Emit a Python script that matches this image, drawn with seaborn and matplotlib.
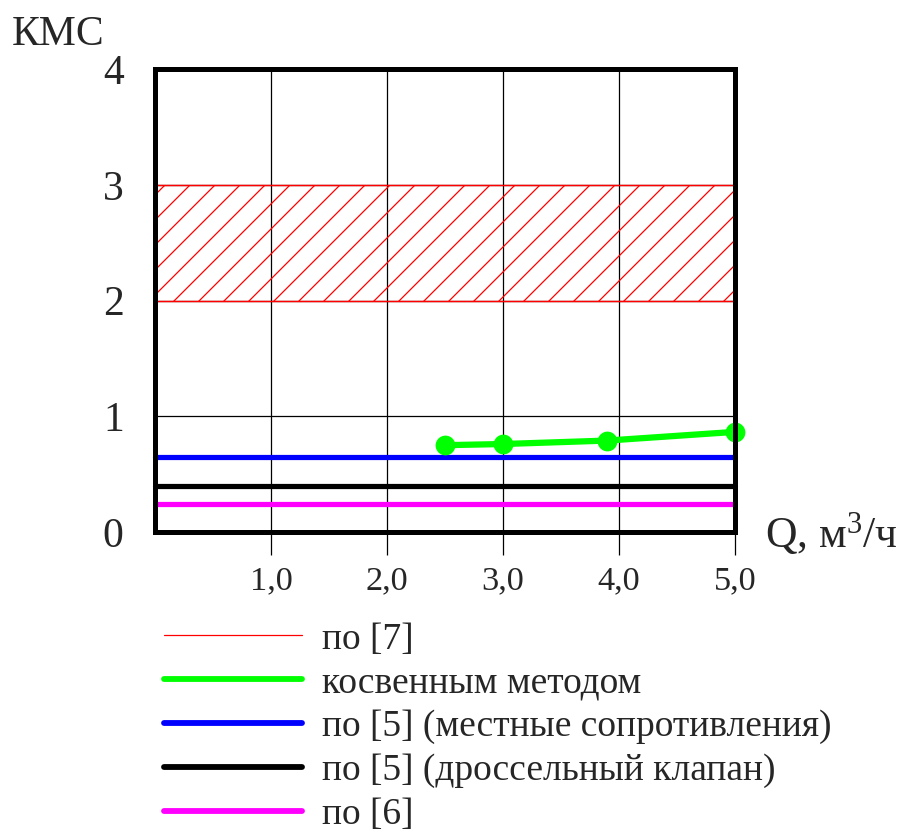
import matplotlib
matplotlib.use("Agg")
import matplotlib.pyplot as plt
import seaborn as sns
import pandas as pd
from matplotlib.lines import Line2D

# ---- data ----
band_x = [0.0, 5.0]
band_low = 2.0
band_high = 3.0
indirect_q = [2.5, 3.0, 3.9, 5.0]
indirect_kms = [0.75, 0.76, 0.79, 0.865]
local_res_q = [0.0, 5.0]
local_res_kms = [0.65, 0.65]
throttle_q = [0.0, 5.0]
throttle_kms = [0.40, 0.40]
ref6_q = [0.0, 5.0]
ref6_kms = [0.24, 0.24]
x_ticks = [1, 2, 3, 4, 5]
x_tick_labels = ["1,0", "2,0", "3,0", "4,0", "5,0"]
y_ticks = [0, 1, 2, 3, 4]
y_tick_labels = ["0", "1", "2", "3", "4"]
legend_labels = ["по [7]", "косвенным методом", "по [5] (местные сопротивления)",
                 "по [5] (дроссельный клапан)", "по [6]"]

sns.set_style("white")
plt.rcParams['font.family'] = ['Liberation Serif', 'DejaVu Serif']
plt.rcParams['mathtext.fontset'] = 'custom'
plt.rcParams['mathtext.rm'] = 'Liberation Serif'
plt.rcParams['mathtext.it'] = 'Liberation Serif'
plt.rcParams['hatch.linewidth'] = 0.6

DPI = 150
fig = plt.figure(figsize=(906 / DPI, 838 / DPI), dpi=DPI)
ax = fig.add_axes([155 / 906, 1 - 532 / 838, 580 / 906, 463 / 838])

ax.set_xlim(0, 5)
ax.set_ylim(0, 4)

# grid
for t in x_ticks[:-1]:
    ax.axvline(t, color="black", lw=0.6, zorder=1)
for t in y_ticks[1:-1]:
    ax.axhline(t, color="black", lw=0.6, zorder=1)

# hatched band
ax.fill_between(band_x, band_low, band_high, facecolor="none", edgecolor="red",
                hatch="//", linewidth=0.7, zorder=2)

df_ind = pd.DataFrame({"Q": indirect_q, "K": indirect_kms})
sns.lineplot(data=df_ind, x="Q", y="K", color="#00FF00", lw=3.0, marker="o",
             markersize=9.5, markeredgewidth=0, ax=ax, zorder=5, clip_on=False)
for qq, kk, col in [(local_res_q, local_res_kms, "#0000FF"),
                    (throttle_q, throttle_kms, "black"),
                    (ref6_q, ref6_kms, "#FF00FF")]:
    d = pd.DataFrame({"Q": qq, "K": kk})
    sns.lineplot(data=d, x="Q", y="K", color=col, lw=2.5, ax=ax, zorder=4,
                 clip_on=False)

for s in ax.spines.values():
    s.set_linewidth(2.4)
    s.set_color("black")
    s.set_zorder(6)

ax.set_xticks(x_ticks)
ax.set_xticklabels(x_tick_labels, fontsize=16.5)
ax.set_yticks(y_ticks)
ax.set_yticklabels(y_tick_labels, fontsize=20)
ax.tick_params(axis="x", direction="out", length=11, width=0.6, color="black",
               pad=5, bottom=True)
ax.tick_params(axis="y", length=0, pad=15)
ax.set_xlabel("")
ax.set_ylabel("")

fig.text(12 / 906, 1 - 45 / 838, "КМС", fontsize=20, ha="left", va="baseline")
fig.text(765 / 906, 1 - 547 / 838, "Q, м$^{3}$/ч", fontsize=21, ha="left",
         va="baseline")

handles = [Line2D([], [], color="red", lw=0.6),
           Line2D([], [], color="#00FF00", lw=2.8, solid_capstyle="round"),
           Line2D([], [], color="#0000FF", lw=2.8, solid_capstyle="round"),
           Line2D([], [], color="black", lw=2.8, solid_capstyle="round"),
           Line2D([], [], color="#FF00FF", lw=2.8, solid_capstyle="round")]
ax.legend(handles, legend_labels, loc="upper left",
          bbox_to_anchor=(164 / 906, 1 - 622 / 838), bbox_transform=fig.transFigure,
          frameon=False, fontsize=18.0, handlelength=3.68, handletextpad=0.53,
          labelspacing=0.25, borderpad=0, borderaxespad=0)

fig.savefig("out.png", dpi=DPI)
